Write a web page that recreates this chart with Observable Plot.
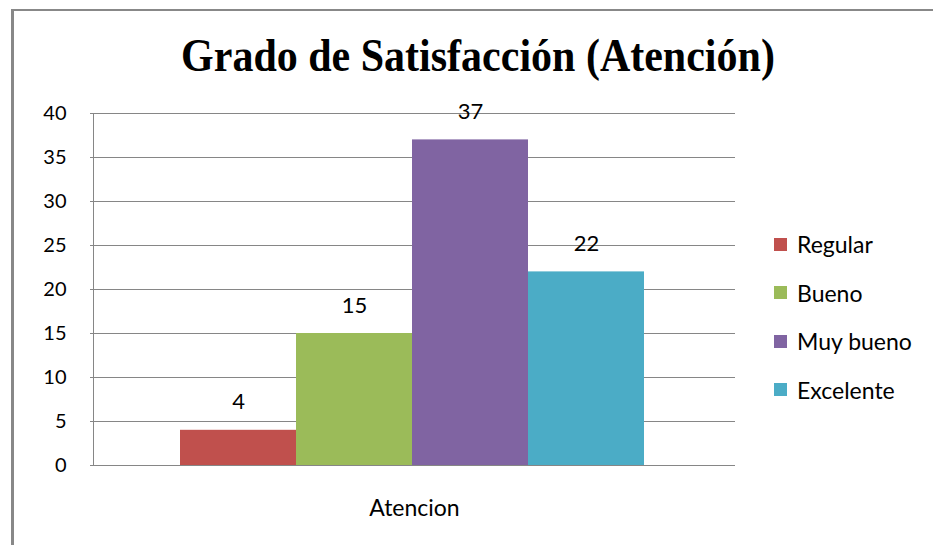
<!DOCTYPE html>
<html>
<head>
<meta charset="utf-8">
<script src="https://cdn.jsdelivr.net/npm/d3@7"></script>
<script src="https://cdn.jsdelivr.net/npm/@observablehq/plot@0.6"></script>
<style>
  html, body { margin: 0; padding: 0; background: #fff; }
  #wrap { position: relative; width: 933px; height: 545px; overflow: hidden; font-family: Lato, "Open Sans", sans-serif; }
  #border { position: absolute; left: 11px; top: 9px; width: 940px; height: 560px; border-left: 3px solid #888; border-top: 2px solid #888; }
  #title { position: absolute; left: 0; width: 956px; top: 31px; text-align: center; font-family: "Liberation Serif", "Times New Roman", serif; font-weight: bold; font-size: 42px; line-height: 44px; color: #000; transform: scaleY(1.12); transform-origin: center top; }
  #chart { position: absolute; left: 0; top: 0; }
  #legend { position: absolute; left: 774px; top: 220px; }
  .item { display: flex; align-items: center; height: 48.5px; font-size: 23px; color: #000; }
  .sw { width: 13px; height: 13px; margin-right: 10px; }
</style>
</head>
<body>
<div id="wrap">
  <div id="border"></div>
  <div id="chart"></div>
  <div id="title">Grado de Satisfacción (Atención)</div>
  <div id="legend"></div>
</div>
<script>
const chartTitle = "Grado de Satisfacción (Atención)";
const groupLabel = "Atencion";
const categories = ["Regular", "Bueno", "Muy bueno", "Excelente"];
const values = [4, 15, 37, 22];
const colors = ["#C0504D", "#9BBB59", "#8064A2", "#4BACC6"];
const yTicks = [0, 5, 10, 15, 20, 25, 30, 35, 40];

const data = categories.map((c, i) => ({cat: c, value: values[i]}));

const plot = Plot.plot({
  width: 933,
  height: 545,
  marginLeft: 93,
  marginRight: 198,
  marginTop: 113,
  marginBottom: 80,
  style: {fontFamily: "Lato, 'Open Sans', sans-serif", fontSize: "20px", color: "#000", background: "transparent"},
  x: {domain: categories, paddingInner: 0, paddingOuter: 0.765, align: 0.487},
  y: {domain: [0, 40]},
  color: {domain: categories, range: colors},
  marks: [
    Plot.gridY(yTicks, {stroke: "#868686", strokeOpacity: 1, strokeWidth: 1}),
    Plot.barY(data, {x: "cat", y: "value", fill: "cat"}),
    Plot.frame({anchor: "left", stroke: "#868686", strokeWidth: 1}),
    Plot.axisY({ticks: yTicks, tickSize: 3, tickPadding: 24, stroke: "#868686", fontSize: 20, label: null, fill: "#000"}),
    Plot.axisX({ticks: [], label: groupLabel, labelAnchor: "center", labelArrow: "none", labelOffset: 50, fontSize: 23, fill: "#000"}),
    Plot.text(data, {x: "cat", y: "value", text: d => String(d.value), dy: -28, fontSize: 22, fill: "#000", lineAnchor: "middle"})
  ]
});
document.getElementById("chart").appendChild(plot);

const legend = document.getElementById("legend");
categories.forEach((c, i) => {
  const item = document.createElement("div");
  item.className = "item";
  const sw = document.createElement("div");
  sw.className = "sw";
  sw.style.background = colors[i];
  const lab = document.createElement("span");
  lab.textContent = c;
  item.appendChild(sw);
  item.appendChild(lab);
  legend.appendChild(item);
});
document.getElementById("title").textContent = chartTitle;
</script>
</body>
</html>
